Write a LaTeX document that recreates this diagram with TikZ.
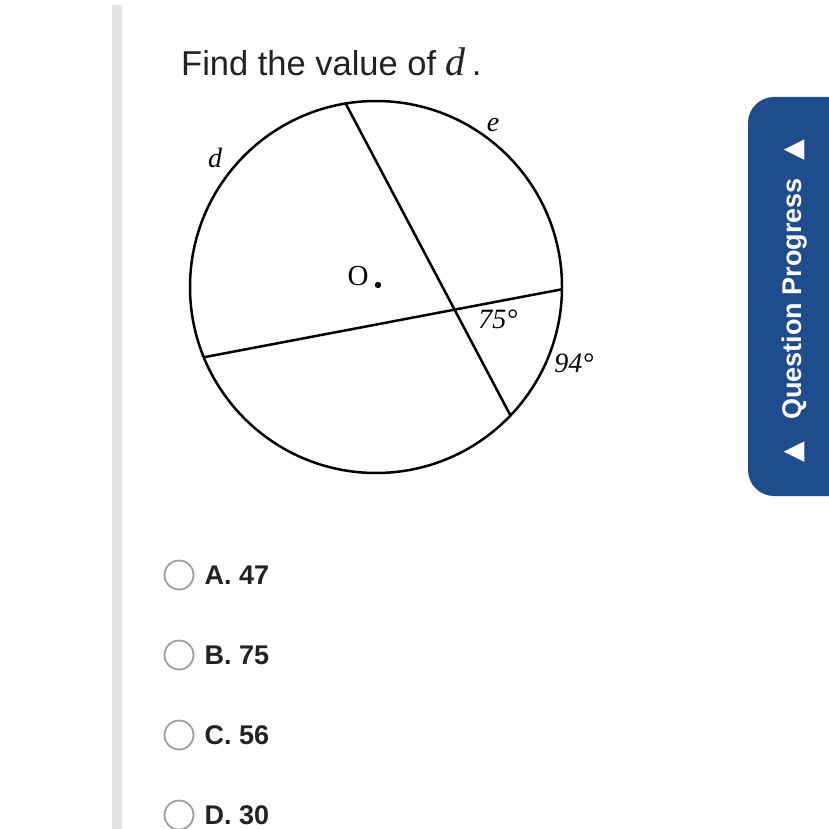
\documentclass[tikz,border=0pt]{standalone}
\usepackage{fontspec}
\setmainfont{Liberation Sans}
\newfontfamily\serif{Liberation Serif}
\newfontfamily\symfont{DejaVu Sans}
\usetikzlibrary{positioning}
\definecolor{tabblue}{RGB}{31,76,140}
\definecolor{barGray}{RGB}{229,229,229}
\definecolor{ringGray}{RGB}{158,158,158}
\definecolor{inkText}{RGB}{34,34,34}
\tikzset{%
    chord/.style={line width=2.5pt, black},
    arcLabel/.style={inner sep=0pt, font=\fontsize{28}{30}\serif\itshape},
    choice/.style={circle, draw=ringGray, line width=1.8pt, minimum size=29pt,
    	inner sep=0pt},
    choiceText/.style={anchor=west, inner sep=0pt, text=inkText,
    	font=\fontsize{27}{30}\selectfont\bfseries}
}
\begin{document}
\begin{tikzpicture}[x=1pt, y=-1pt]
  \useasboundingbox (0,0) rectangle (828,829);
  \fill[barGray] (112,5) rectangle (122,829);

  \node (title) [anchor=base west, inner sep=0pt, text=inkText,
    font=\fontsize{34.5}{36}\selectfont] at (181,76)
    {Find the value of {\fontsize{40}{40}\serif\itshape d}\hspace{6pt}.};

  \begin{scope}[shift={(376,287)}]
    \coordinate (O) at (0,0);
    \coordinate (a) at (-99.4:186);
    \coordinate (b) at (43.7:186);
    \coordinate (c) at (157.8:186);
    \coordinate (f) at (0.7:186);
    \draw[chord] (O) circle (186);
  \end{scope}
  \draw[chord] (a) -- (b);
  \draw[chord] (c) -- (f);
  \fill (O) ++(2,-2) circle (3.2);

  \node (Olabel) [inner sep=0pt, font=\fontsize{29}{30}\serif] at (358,276) {O};
  \node (d) [arcLabel] at (215,158) {d};
  \node (e) [arcLabel] at (493,125) {e};
  \node (ang) [arcLabel] at (498,319) {75°};
  \node (arc) [arcLabel] at (574,363) {94°};

  \fill[tabblue, rounded corners=26pt] (880,97) -- (748,97) -- (748,496)
    -- (880,496) -- cycle;
  \node (progress) [rotate=90, anchor=base, inner sep=0pt, text=white,
    font=\fontsize{27}{30}\selectfont\bfseries] at (801,301)
    {{\symfont ▲}\hspace{22pt}Question Progress\hspace{18pt}{\symfont ▲}};

  \node (rA) [choice] at (179,575) {};
  \node (rB) [choice] at (179,655) {};
  \node (rC) [choice] at (179,735) {};
  \node (rD) [choice] at (179,815) {};
  \node (tA) [choiceText, right=10pt of rA] {A. 47};
  \node (tB) [choiceText, right=10pt of rB] {B. 75};
  \node (tC) [choiceText, right=10pt of rC] {C. 56};
  \node (tD) [choiceText, right=10pt of rD] {D. 30};
\end{tikzpicture}
\end{document}
